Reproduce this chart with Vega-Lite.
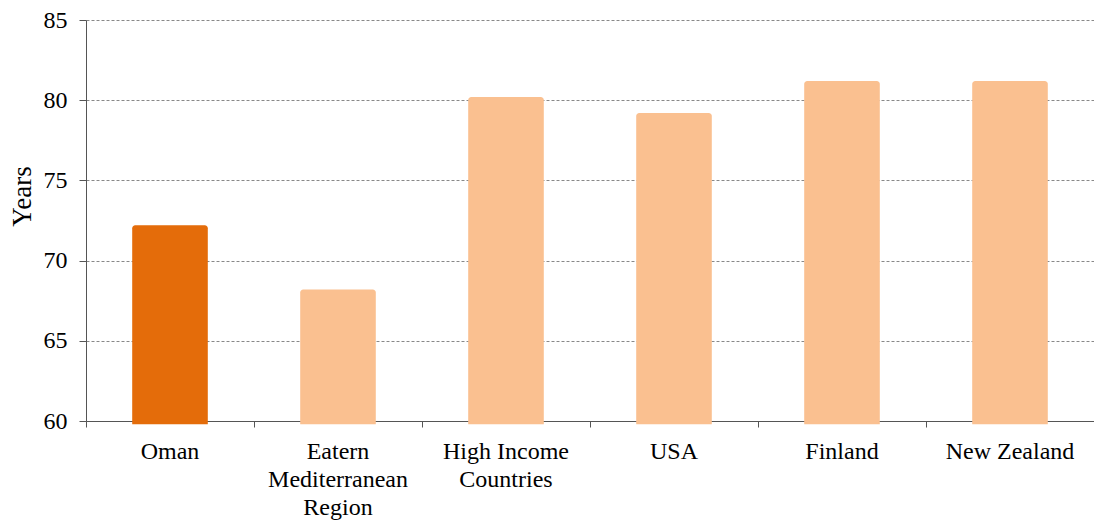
{
  "$schema": "https://vega.github.io/schema/vega-lite/v6.json",
  "width": 1008,
  "height": 401,
  "autosize": {"type": "none"},
  "padding": {"left": 86, "top": 20, "right": 0, "bottom": 100},
  "background": "white",
  "config": {
    "view": {"stroke": null},
    "font": "Liberation Serif",
    "axis": {"labelFont": "Liberation Serif", "titleFont": "Liberation Serif"}
  },
  "layer": [
    {
      "data": {
        "values": [
          {"country": "Oman", "years": 72.2, "group": "Oman"},
          {"country": "Eatern|Mediterranean|Region", "years": 68.2, "group": "Other"},
          {"country": "High Income|Countries", "years": 80.2, "group": "Other"},
          {"country": "USA", "years": 79.2, "group": "Other"},
          {"country": "Finland", "years": 81.2, "group": "Other"},
          {"country": "New Zealand", "years": 81.2, "group": "Other"}
        ]
      },
      "mark": {"type": "bar", "cornerRadiusTopLeft": 3, "cornerRadiusTopRight": 3},
      "encoding": {
        "x": {
          "field": "country",
          "type": "nominal",
          "sort": null,
          "scale": {"paddingInner": 0.55, "paddingOuter": 0.275},
          "axis": {
            "orient": "bottom",
            "title": null,
            "labelAngle": 0,
            "labelExpr": "split(datum.label, '|')",
            "labelFont": "Liberation Serif",
            "labelFontSize": 24,
            "labelColor": "#000000",
            "labelLineHeight": 28,
            "labelPadding": 18,
            "labelBaseline": "top",
            "ticks": false,
            "domainColor": "#555555",
            "grid": false
          }
        },
        "y": {
          "field": "years",
          "type": "quantitative",
          "scale": {"domain": [60, 85], "nice": false, "zero": false},
          "axis": {
            "title": "Years",
            "titleFont": "Liberation Serif",
            "titleFontSize": 27,
            "titleFontWeight": "normal",
            "titleColor": "#000000",
            "titleAngle": -90,
            "titleX": -64,
            "titleY": 176,
            "titleAlign": "center",
            "titleBaseline": "middle",
            "values": [60, 65, 70, 75, 80, 85],
            "labelFont": "Liberation Serif",
            "labelFontSize": 24,
            "labelColor": "#000000",
            "labelPadding": 12,
            "tickSize": 7,
            "tickColor": "#555555",
            "domainColor": "#555555",
            "grid": true,
            "gridColor": "#888888",
            "gridDash": [3, 2],
            "gridWidth": 1
          }
        },
        "y2": {"datum": 59.8},
        "color": {
          "field": "group",
          "type": "nominal",
          "scale": {"domain": ["Oman", "Other"], "range": ["#E46C0A", "#FAC090"]},
          "legend": null
        }
      }
    },
    {
      "data": {"values": [{"edge": 0}, {"edge": 1}, {"edge": 2}, {"edge": 3}, {"edge": 4}, {"edge": 5}, {"edge": 6}]},
      "mark": {"type": "point", "opacity": 0},
      "encoding": {
        "x": {
          "field": "edge",
          "type": "quantitative",
          "scale": {"domain": [0, 6], "nice": false, "zero": false},
          "axis": {
            "orient": "bottom",
            "values": [0, 1, 2, 3, 4, 5, 6],
            "labels": false,
            "domain": false,
            "grid": false,
            "title": null,
            "tickSize": 6,
            "tickColor": "#555555"
          }
        }
      }
    }
  ],
  "resolve": {"scale": {"x": "independent", "color": "independent"}}
}
